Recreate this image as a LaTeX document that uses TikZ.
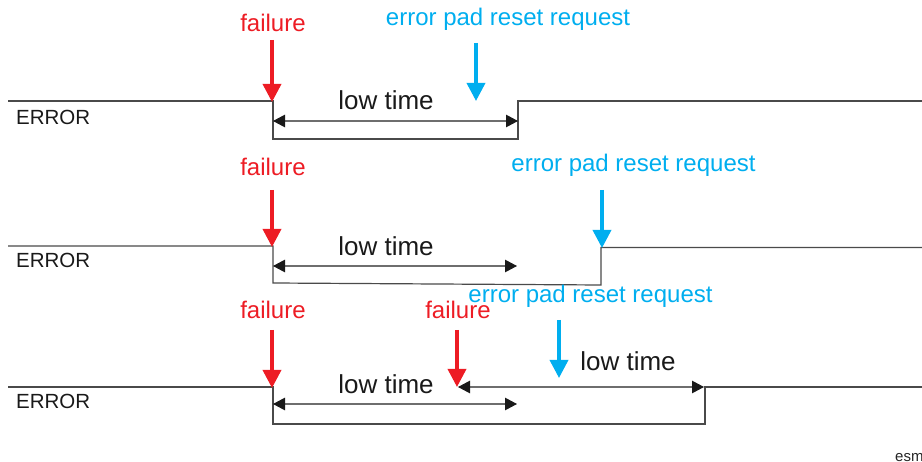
\documentclass[tikz,border=0pt]{standalone}
\usepackage{fontspec}
\setmainfont{Liberation Sans}
\usetikzlibrary{arrows.meta}
\definecolor{fred}{HTML}{ED1C24}
\definecolor{fblue}{HTML}{00AEEF}
\definecolor{wave}{HTML}{4A4A4A}
\definecolor{dimline}{HTML}{6E6E6E}
\tikzset{
  wavel/.style={draw=wave, line width=1.2pt},
  dimarrow/.style={draw=dimline, line width=1.1pt, {Triangle[length=12pt,width=12.5pt,color=black!90]}-{Triangle[length=12pt,width=12.5pt,color=black!90]}},
  redarrow/.style={draw=fred, line width=3.5pt, -{Triangle[length=18pt,width=18pt]}, shorten >=-1pt},
  bluearrow/.style={draw=fblue, line width=3.5pt, -{Triangle[length=18pt,width=18pt]}, shorten >=-1pt},
  redtext/.style={text=fred, font=\fontsize{24}{28}\selectfont, anchor=base, inner sep=0pt},
  bluetext/.style={text=fblue, font=\fontsize{24}{28}\selectfont, anchor=base, inner sep=0pt},
  lowtext/.style={text=black!90, font=\fontsize{26}{30}\selectfont, anchor=base, inner sep=0pt},
  errtext/.style={text=black!90, font=\fontsize{20.5}{24}\selectfont, anchor=base west, inner sep=0pt},
}
\begin{document}
\begin{tikzpicture}[x=1pt,y=-1pt]
\useasboundingbox (0,0) rectangle (922,462);

% ---------- Row 1 ----------
\coordinate (a1) at (8,101);
\coordinate (a2) at (273,101);
\coordinate (a3) at (273,139);
\coordinate (a4) at (518,139);
\coordinate (a5) at (518,101);
\coordinate (a6) at (922,101);
\draw[wavel] (a1) -- (a2) -- (a3) -- (a4) -- (a5) -- (a6);
\coordinate (d1l) at (273,121);
\coordinate (d1r) at (518,121);
\draw[dimarrow] (d1l) -- (d1r);
\node[lowtext] (lt1) at (386,110) {low time};
\node[errtext] (e1) at (16,125) {ERROR};
\node[redtext] (f1) at (273,32) {failure};
\coordinate (r1s) at (272,40);
\coordinate (r1e) at (272,101);
\draw[redarrow] (r1s) -- (r1e);
\node[bluetext] (b1) at (508,26) {error pad reset request};
\coordinate (b1s) at (476,43);
\coordinate (b1e) at (476,100);
\draw[bluearrow] (b1s) -- (b1e);

% ---------- Row 2 ----------
\coordinate (c1) at (8,246);
\coordinate (c2) at (273,246);
\coordinate (c3) at (273,283);
\coordinate (c4) at (601,285);
\coordinate (c5) at (601,247.5);
\coordinate (c6) at (922,247.5);
\draw[wavel] (c1) -- (c2) -- (c3) -- (c4) -- (c5) -- (c6);
\coordinate (d2l) at (273,266);
\coordinate (d2r) at (517,266);
\draw[dimarrow] (d2l) -- (d2r);
\node[lowtext] (lt2) at (386,256) {low time};
\node[errtext] (e2) at (16,268) {ERROR};
\node[redtext] (f2) at (273,176) {failure};
\coordinate (r2s) at (272,190);
\coordinate (r2e) at (272,246);
\draw[redarrow] (r2s) -- (r2e);
\node[bluetext] (b2) at (633.5,172) {error pad reset request};
\coordinate (b2s) at (602,190);
\coordinate (b2e) at (602,247);
\draw[bluearrow] (b2s) -- (b2e);

% ---------- Row 3 ----------
\coordinate (g1) at (8,387);
\coordinate (g2) at (273,387);
\coordinate (g3) at (273,424);
\coordinate (g4) at (705,424);
\coordinate (g5) at (705,387);
\coordinate (g6) at (922,387);
\draw[wavel] (g1) -- (g2) -- (g3) -- (g4) -- (g5) -- (g6);
\coordinate (d3l) at (273,404);
\coordinate (d3r) at (517,404);
\draw[dimarrow] (d3l) -- (d3r);
\coordinate (d4l) at (458,387);
\coordinate (d4r) at (704,387);
\draw[dimarrow] (d4l) -- (d4r);
\node[lowtext] (lt3) at (386,394) {low time};
\node[lowtext] (lt4) at (628,371) {low time};
\node[errtext] (e3) at (16,409) {ERROR};
\node[redtext] (f3) at (273,319) {failure};
\coordinate (r3s) at (272,330);
\coordinate (r3e) at (272,387);
\draw[redarrow] (r3s) -- (r3e);
\node[redtext] (f4) at (458,319) {failure};
\coordinate (r4s) at (457,330);
\coordinate (r4e) at (457,386);
\draw[redarrow] (r4s) -- (r4e);
\node[bluetext] (b3) at (590.5,303) {error pad reset request};
\coordinate (b3s) at (559,320);
\coordinate (b3e) at (559,377);
\draw[bluearrow] (b3s) -- (b3e);

\node[anchor=base west, inner sep=0pt, font=\fontsize{15}{17}\selectfont, text=black!85] (esm) at (895,461) {esm};
\end{tikzpicture}
\end{document}
